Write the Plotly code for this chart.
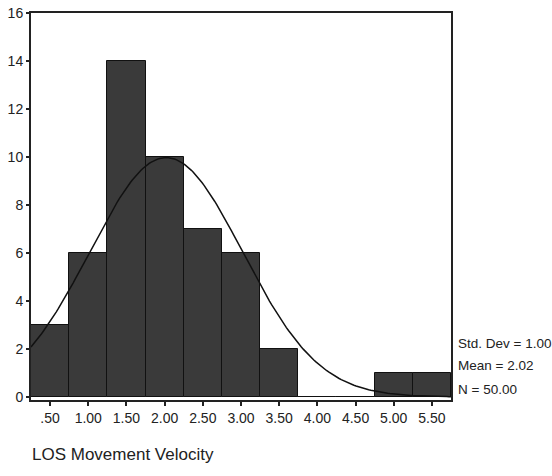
import numpy as np
import plotly.graph_objects as go

bin_centers = [0.5, 1.0, 1.5, 2.0, 2.5, 3.0, 3.5, 4.0, 4.5, 5.0, 5.5]
counts = [3, 6, 14, 10, 7, 6, 2, 0, 0, 1, 1]
tick_labels = [".50", "1.00", "1.50", "2.00", "2.50", "3.00", "3.50", "4.00", "4.50", "5.00", "5.50"]
y_ticks = [0, 2, 4, 6, 8, 10, 12, 14, 16]
std_dev = 1.00
mean = 2.02
n_total = 50
bin_width = 0.5

fig = go.Figure()
fig.add_trace(go.Bar(
    x=bin_centers, y=counts, width=bin_width,
    marker=dict(color="#3a3a3a", line=dict(color="#111111", width=1)),
    showlegend=False, hoverinfo="skip",
))

xs = np.linspace(0.25, 5.75, 200)
ys = n_total * bin_width * np.exp(-0.5 * ((xs - mean) / std_dev) ** 2) / (std_dev * np.sqrt(2 * np.pi))
fig.add_trace(go.Scatter(x=xs, y=ys, mode="lines", line=dict(color="#111111", width=1.5),
                         showlegend=False, hoverinfo="skip"))

font_family = "Liberation Sans, Arial, sans-serif"
fig.update_layout(
    width=552, height=476,
    margin=dict(l=31, r=101, t=13, b=76, autoexpand=False),
    paper_bgcolor="white", plot_bgcolor="white",
    bargap=0,
    font=dict(family=font_family, color="#222222", size=14),
    xaxis=dict(range=[0.25, 5.75], tickvals=bin_centers, ticktext=tick_labels,
               showgrid=False, zeroline=False, showline=True, linecolor="#222222", linewidth=2,
               mirror=True, ticks="outside", ticklen=4, tickwidth=2, tickcolor="#222222",
               tickfont=dict(size=14), automargin=False),
    yaxis=dict(range=[-0.13, 16], tickvals=y_ticks, showgrid=False, zeroline=False,
               showline=True, linecolor="#222222", linewidth=2, mirror=True,
               ticks="outside", ticklen=3, tickwidth=2, tickcolor="#222222",
               tickfont=dict(size=14), automargin=False),
    annotations=[
        dict(text="Std. Dev = %.2f" % std_dev, x=1.012, y=0.147, xref="paper", yref="paper",
             xanchor="left", yanchor="middle", showarrow=False, font=dict(size=13.5)),
        dict(text="Mean = %.2f" % mean, x=1.012, y=0.088, xref="paper", yref="paper",
             xanchor="left", yanchor="middle", showarrow=False, font=dict(size=13.5)),
        dict(text="N = %.2f" % n_total, x=1.012, y=0.026, xref="paper", yref="paper",
             xanchor="left", yanchor="middle", showarrow=False, font=dict(size=13.5)),
        dict(text="LOS Movement Velocity", x=-0.002, y=-0.142, xref="paper", yref="paper",
             xanchor="left", yanchor="middle", showarrow=False, font=dict(size=17)),
    ],
)
fig.write_html("out.html", config={"displayModeBar": False},
               post_script="document.body.style.margin='0';document.body.style.padding='0';document.body.style.overflow='hidden';")
